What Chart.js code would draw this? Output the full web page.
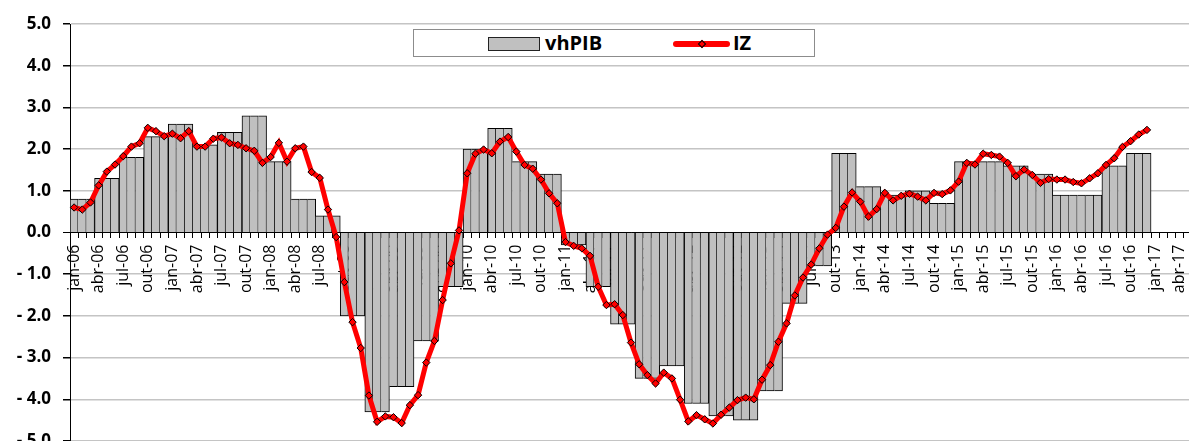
<!DOCTYPE html>
<html>
<head>
<meta charset="utf-8">
<script src="https://cdn.jsdelivr.net/npm/chart.js@4/dist/chart.umd.min.js"></script>
<style>
  html, body { margin: 0; padding: 0; background: #fff; overflow: hidden; }
  #wrap { position: relative; width: 1189px; height: 441px; overflow: hidden; }
  canvas { display: block; }
  #legend { position: absolute; left: 413px; top: 29px; width: 400px; height: 26px; border: 1px solid #8c8c8c; background: #fff;
            font-family: "Open Sans", sans-serif; font-weight: bold; font-size: 20px; color: #000; }
  #legend .sw { position: absolute; left: 74px; top: 7px; width: 52px; height: 14px; box-sizing: border-box; border: 1px solid #222; background: #c0c0c0; }
  #legend .t1 { position: absolute; left: 131px; top: 0; line-height: 26px; }
  #legend .ln { position: absolute; left: 259px; top: 11px; width: 57px; height: 6px; border-radius: 3px; background: #ff0000; }
  #legend .dm { position: absolute; left: 284.5px; top: 10.5px; width: 6px; height: 6px; box-sizing: border-box; border: 1px solid #000; background: #ff0000; transform: rotate(45deg); }
  #legend .t2 { position: absolute; left: 319px; top: 0; line-height: 26px; }
</style>
</head>
<body>
<div id="wrap">
  <canvas id="c" width="1192" height="441"></canvas>
  <div id="legend"><div class="sw"></div><div class="t1">vhPIB</div><div class="ln"></div><div class="dm"></div><div class="t2">IZ</div></div>
</div>
<script>
// Month names and years for the category axis (jan-06 ... mai-17)
const monthNames = ['jan','fev','mar','abr','mai','jun','jul','ago','set','out','nov','dez'];
const years = ['06','07','08','09','10','11','12','13','14','15','16','17'];
const lastMonthOf2017 = 5; // categories run through mai-17

// vhPIB: quarterly values (2006 Q1 ... 2016 Q4), each spans its three months
const vhPIB = [
  0.8, 1.3, 1.8, 2.3,
  2.6, 2.1, 2.4, 2.8,
  1.7, 0.8, 0.4, -2.0,
  -4.3, -3.7, -2.6, -1.3,
  2.0, 2.5, 1.7, 1.4,
  -0.3, -1.3, -2.2, -3.5,
  -3.2, -4.1, -4.4, -4.5,
  -3.8, -1.7, -0.8, 1.9,
  1.1, 0.9, 1.0, 0.7,
  1.7, 1.7, 1.6, 1.4,
  0.9, 0.9, 1.6, 1.9
];

// IZ: monthly values (jan-06 ... dez-16)
const IZ = [
  0.60, 0.55, 0.72, 1.13, 1.46, 1.63, 1.83, 2.06, 2.14, 2.51, 2.43, 2.31,
  2.37, 2.26, 2.43, 2.06, 2.06, 2.25, 2.28, 2.14, 2.10, 2.02, 1.96, 1.67,
  1.81, 2.15, 1.70, 2.02, 2.06, 1.45, 1.31, 0.55, -0.11, -1.19, -2.15, -2.77,
  -3.91, -4.54, -4.41, -4.43, -4.57, -4.14, -3.90, -3.12, -2.60, -1.62, -0.74, 0.05,
  1.42, 1.89, 1.99, 1.90, 2.18, 2.29, 1.94, 1.62, 1.53, 1.27, 0.94, 0.70,
  -0.23, -0.32, -0.38, -0.56, -1.30, -1.74, -1.72, -1.98, -2.64, -3.16, -3.42, -3.62,
  -3.36, -3.50, -4.01, -4.53, -4.38, -4.48, -4.58, -4.37, -4.20, -4.02, -3.96, -4.00,
  -3.53, -3.18, -2.62, -2.18, -1.51, -1.08, -0.77, -0.38, -0.05, 0.11, 0.62, 0.96,
  0.74, 0.38, 0.56, 0.95, 0.77, 0.88, 0.93, 0.86, 0.77, 0.95, 0.92, 1.01,
  1.22, 1.67, 1.63, 1.89, 1.86, 1.82, 1.67, 1.35, 1.51, 1.38, 1.19, 1.28,
  1.27, 1.27, 1.21, 1.18, 1.30, 1.42, 1.62, 1.78, 2.05, 2.19, 2.35, 2.46
];

// Y tick values
const yTicks = [-5, -4, -3, -2, -1, 0, 1, 2, 3, 4, 5];

// Build categories
const categories = [];
years.forEach((y, yi) => {
  const n = (yi === years.length - 1) ? lastMonthOf2017 : 12;
  for (let m = 0; m < n; m++) categories.push(monthNames[m] + '-' + y);
});

const barData = categories.map((c, i) => (Math.floor(i / 3) < vhPIB.length ? vhPIB[Math.floor(i / 3)] : null));
const lineData = categories.map((c, i) => (i < IZ.length ? IZ[i] : null));

const fontFam = "'Open Sans', sans-serif";
const zeroPad = (s) => { s.paddingLeft = 0; s.paddingRight = 0; s.paddingTop = 0; s.paddingBottom = 0; };

new Chart(document.getElementById('c'), {
  type: 'bar',
  data: {
    labels: categories,
    datasets: [
      {
        type: 'line', label: 'IZ', data: lineData,
        borderColor: '#ff0000', borderWidth: 5, tension: 0,
        pointStyle: 'rectRot', pointRadius: 3.7, pointBackgroundColor: '#ff0000',
        pointBorderColor: '#000', pointBorderWidth: 1, order: 1
      },
      {
        type: 'bar', label: 'vhPIB', data: barData,
        backgroundColor: '#c0c0c0', borderColor: '#000',
        borderWidth: (ctx) => {
          const i = ctx.dataIndex, d = ctx.dataset.data;
          const cur = d[i], prev = i > 0 ? d[i - 1] : null;
          let left = 0;
          if (prev === null || prev === undefined || Math.sign(prev) !== Math.sign(cur) || Math.abs(prev) < Math.abs(cur)) left = 1;
          return { top: 1, right: 1, bottom: 1, left: left };
        },
        barPercentage: 1, categoryPercentage: 1, order: 2
      }
    ]
  },
  options: {
    responsive: false, animation: false, devicePixelRatio: 1,
    layout: { autoPadding: false, padding: { top: 24, left: 0, right: 0, bottom: 0 } },
    plugins: { legend: { display: false }, tooltip: { enabled: false } },
    scales: {
      x: {
        position: { y: 0 }, offset: true,
        grid: { drawOnChartArea: false, drawTicks: true, tickLength: 5, tickColor: '#000', offset: true },
        border: { display: true, color: '#000', width: 1 },
        ticks: {
          autoSkip: false, maxRotation: 90, minRotation: 90, padding: 7, color: '#000',
          font: { family: fontFam, size: 16 },
          callback: function (v, i) { return i % 3 === 0 ? this.getLabelForValue(v) : ''; }
        },
        afterFit: zeroPad
      },
      y: {
        min: yTicks[0], max: yTicks[yTicks.length - 1],
        afterBuildTicks: (s) => { s.ticks = yTicks.map(v => ({ value: v })); },
        ticks: {
          padding: 12, color: '#000',
          font: { family: fontFam, size: 17, weight: 'bold' },
          callback: (v) => (v < 0 ? '- ' + Math.abs(v).toFixed(1) : v.toFixed(1))
        },
        grid: {
          color: (c) => (c.tick && c.tick.value === 0 ? '#000' : '#c4c4c4'),
          lineWidth: (c) => (c.tick && c.tick.value === 0 ? 1 : 1.5),
          tickColor: '#000', tickLength: 7
        },
        border: { color: '#000', width: 1 },
        afterFit: (s) => { s.width = 70; zeroPad(s); }
      }
    }
  }
});
</script>
</body>
</html>
